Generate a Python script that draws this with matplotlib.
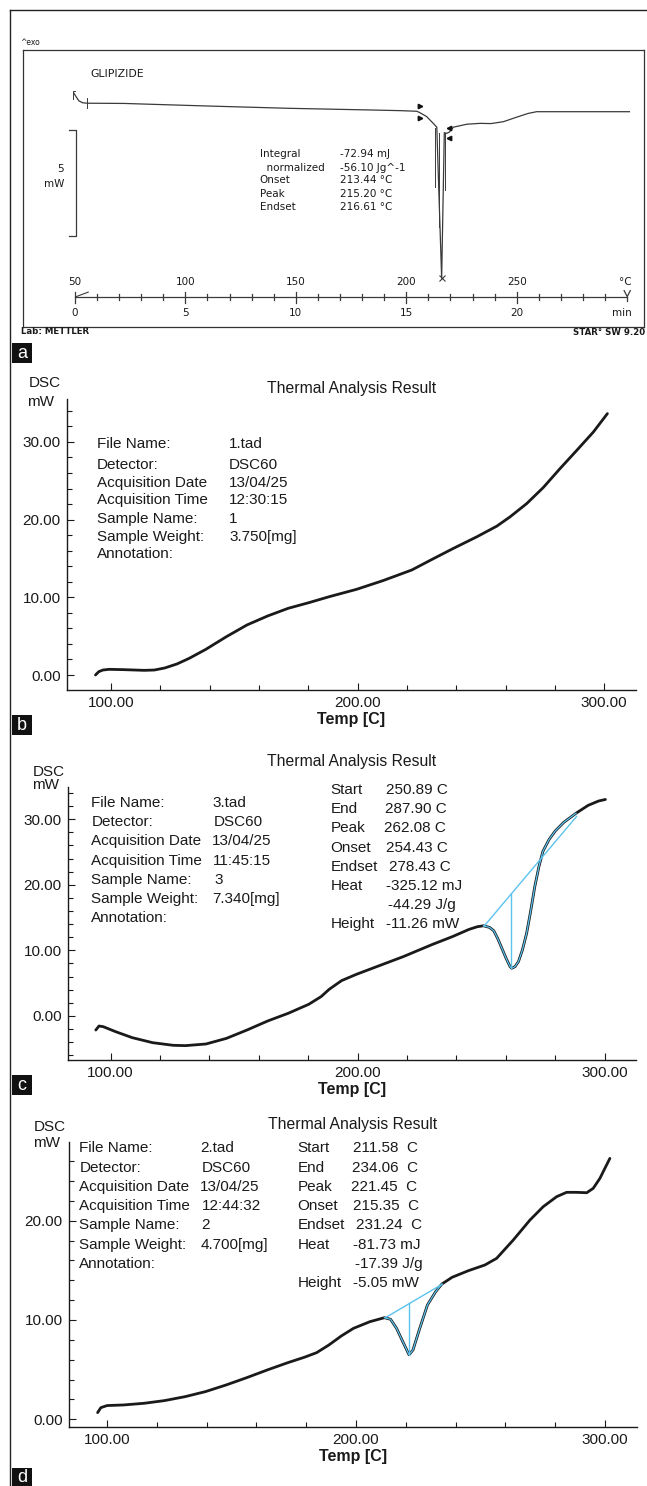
import matplotlib
matplotlib.use('Agg')
import matplotlib.pyplot as plt
from matplotlib.ticker import MultipleLocator, FuncFormatter
from matplotlib.patches import Rectangle
from matplotlib.lines import Line2D

# ---------------- data ----------------
# Panel a (METTLER, GLIPIZIDE): temperature [C] vs heat flow [mW, arbitrary offset]
a_temp = [49.6, 50.5, 51.8, 53.5, 55.7, 72.1, 109.5, 146.9, 184.2, 197.2, 204.8, 206.2,
          209.2, 212.2, 213.8, 216.0, 217.2, 218.3, 219.5, 221.3, 227.4, 233.4, 238.4,
          244.0, 249.6, 255.2, 259.0, 301.0]
a_hf = [11.0, 10.85, 10.65, 10.56, 10.54, 10.53, 10.41, 10.30, 10.22, 10.19, 10.16, 10.09,
        9.91, 9.59, 9.41, 2.28, 9.15, 9.12, 9.18, 9.41, 9.55, 9.59, 9.58,
        9.67, 9.87, 10.06, 10.14, 10.14]
a_hatch_temp = [213.0, 215.0, 217.6]
a_hatch_top = [9.36, 9.12, 9.12]
a_hatch_bot = [6.60, 4.72, 6.45]
a_temp_labels = [50, 100, 150, 200, 250]
a_min_labels = [0, 5, 10, 15, 20]
a_minutes = list(range(26))
a_info_labels = ["Integral", "  normalized", "Onset", "Peak", "Endset"]
a_info_values = ["-72.94 mJ", "-56.10 Jg^-1", "213.44 \u00b0C", "215.20 \u00b0C", "216.61 \u00b0C"]

# Panel b (1.tad)
b_temp = [93.65, 94.99, 96.66, 99.16, 105.0, 113.4, 117.5, 121.7, 126.7, 131.7, 138.4, 146.8,
          155.1, 163.5, 171.8, 180.2, 188.6, 199.6, 210.3, 222.0, 230.1, 238.8, 248.3,
          256.4, 261.8, 268.6, 275.3, 282.1, 288.9, 295.6, 301.3]
b_dsc = [0.0, 0.43, 0.64, 0.73, 0.69, 0.60, 0.64, 0.90, 1.42, 2.15, 3.30, 4.94,
         6.44, 7.60, 8.58, 9.31, 10.09, 11.03, 12.15, 13.52, 14.87, 16.29, 17.78,
         19.15, 20.35, 22.07, 24.13, 26.57, 28.92, 31.27, 33.64]
b_info_labels = ["File Name:", "Detector:", "Acquisition Date", "Acquisition Time",
                 "Sample Name:", "Sample Weight:", "Annotation:"]
b_info_values = ["1.tad", "DSC60", "13/04/25", "12:30:15", "1", "3.750[mg]", ""]

# Panel c (3.tad)
c_temp = [94.0, 95.3, 97.0, 102.0, 108.7, 117.0, 125.3, 130.3, 138.6, 146.9, 155.2, 163.6,
          171.9, 180.2, 185.2, 188.5, 193.5, 199.5, 208.5, 218.5, 230.1, 238.4, 245.1,
          248.4, 250.9, 253.4, 255.1, 256.7, 258.4, 260.1, 261.7, 262.4, 263.7, 265.1,
          266.7, 268.4, 270.0, 271.7, 273.4, 275.0, 277.5, 280.0, 283.4, 288.4, 293.3,
          297.5, 300.3]
c_dsc = [-2.14, -1.53, -1.63, -2.39, -3.30, -4.07, -4.47, -4.52, -4.27, -3.41, -2.14, -0.76,
         0.41, 1.78, 2.95, 4.07, 5.39, 6.35, 7.63, 9.05, 10.88, 12.10, 13.20,
         13.60, 13.75, 13.50, 12.99, 11.80, 10.30, 8.79, 7.52, 7.27, 7.52, 8.29,
         10.07, 12.60, 15.90, 19.70, 22.80, 25.10, 26.90, 28.20, 29.50, 30.90, 32.10,
         32.76, 33.00]
c_base_temp = [251.2, 288.6]
c_base_dsc = [13.7, 30.4]
c_peak_temp = 262.08
c_peak_range = [7.27, 18.55]
c_info_labels = ["File Name:", "Detector:", "Acquisition Date", "Acquisition Time",
                 "Sample Name:", "Sample Weight:", "Annotation:"]
c_info_values = ["3.tad", "DSC60", "13/04/25", "11:45:15", "3", "7.340[mg]", ""]
c_res_labels = ["Start", "End", "Peak", "Onset", "Endset", "Heat", "", "Height"]
c_res_values = ["250.89 C", "287.90 C", "262.08 C", "254.43 C", "278.43 C",
                "-325.12 mJ", "-44.29 J/g", "-11.26 mW"]

# Panel d (2.tad)
d_temp = [96.2, 97.5, 100.0, 106.6, 114.9, 123.1, 131.4, 139.6, 147.9, 156.1, 164.4, 172.6,
          179.2, 184.2, 189.1, 194.1, 199.0, 205.6, 211.4, 213.9, 216.3, 218.8, 221.3,
          222.9, 225.4, 228.7, 232.0, 234.5, 238.6, 245.2, 251.8, 256.5, 263.2, 269.9,
          275.2, 280.6, 284.6, 288.6, 292.7, 295.3, 298.0, 300.0, 302.0]
d_dsc = [0.67, 1.17, 1.38, 1.44, 1.61, 1.88, 2.28, 2.79, 3.46, 4.19, 4.97, 5.70,
         6.24, 6.71, 7.48, 8.39, 9.16, 9.83, 10.23, 10.07, 9.16, 7.82, 6.50,
         6.98, 8.99, 11.51, 12.85, 13.62, 14.30, 14.97, 15.54, 16.21, 18.06, 20.07,
         21.41, 22.42, 22.86, 22.86, 22.82, 23.26, 24.27, 25.28, 26.28]
d_base_temp = [211.8, 234.6]
d_base_dsc = [10.23, 13.6]
d_peak_temp = 221.45
d_peak_range = [6.50, 11.74]
d_info_labels = ["File Name:", "Detector:", "Acquisition Date", "Acquisition Time",
                 "Sample Name:", "Sample Weight:", "Annotation:"]
d_info_values = ["2.tad", "DSC60", "13/04/25", "12:44:32", "2", "4.700[mg]", ""]
d_res_labels = ["Start", "End", "Peak", "Onset", "Endset", "Heat", "", "Height"]
d_res_values = ["211.58  C", "234.06  C", "221.45  C", "215.35  C", "231.24  C",
                "-81.73 mJ", "-17.39 J/g", "-5.05 mW"]

# ---------------- figure ----------------
W, H = 647, 1486
fig = plt.figure(figsize=(W / 100, H / 100), dpi=100)
FONT = ['Liberation Sans', 'DejaVu Sans']
AFONT = ['DejaVu Sans']
BLUE = '#5cc3ee'
INK = '#1a1a1a'


def fx(x):
    return x / W


def fy(y):
    return 1 - y / H


def add_ax(l, t, r, b):
    return fig.add_axes([fx(l), fy(b), (r - l) / W, (b - t) / H])


def ftext(x, y, s, **kw):
    kw.setdefault('family', FONT)
    kw.setdefault('fontsize', 11)
    kw.setdefault('va', 'center')
    kw.setdefault('color', INK)
    fig.text(fx(x), fy(y), s, **kw)


# outer frame
fig.add_artist(Line2D([fx(10), fx(10)], [fy(10), fy(1486)], color='#222', lw=1.0))
fig.add_artist(Line2D([fx(10), fx(647)], [fy(10), fy(10)], color='#222', lw=1.0))

# panel letters
for letter, top in [('a', 343), ('b', 715), ('c', 1075), ('d', 1468)]:
    fig.add_artist(Rectangle((fx(12), fy(top + 20)), 20 / W, 20 / H, transform=fig.transFigure,
                             facecolor='#111', edgecolor='none'))
    fig.text(fx(22), fy(top + 10), letter, color='white', fontsize=13, ha='center', va='center',
             family=FONT)

# ---------------- panel a ----------------
axa = add_ax(22.6, 50, 644, 326.7)
axa.set_xlim(26.3, 307.6)
axa.set_ylim(0, 13.05)
axa.set_xticks([])
axa.set_yticks([])
for s in axa.spines.values():
    s.set_color('#333')
    s.set_linewidth(0.9)

acol = '#3a3a3a'
axa.plot(a_temp, a_hf, color=acol, lw=0.9)
for t, top, bot in zip(a_hatch_temp, a_hatch_top, a_hatch_bot):
    axa.plot([t, t], [top, bot], color=acol, lw=0.7)
axa.plot([216.0], [2.28], marker='x', ms=5, color=acol, mew=0.8)
# start/end brackets of curve
axa.plot([49.3, 49.3, 49.9], [10.75, 11.1, 11.1], color=acol, lw=0.7)
axa.plot([55.3, 55.3], [10.3, 10.78], color=acol, lw=0.7)
# onset / endset markers
axa.plot([206.2], [10.40], marker='>', ms=3.2, color='#111', ls='none')
axa.plot([206.2], [9.82], marker='>', ms=3.2, color='#111', ls='none')
axa.plot([219.5], [9.38], marker='<', ms=3.2, color='#111', ls='none')
axa.plot([219.5], [8.88], marker='<', ms=3.2, color='#111', ls='none')

# scale bar 5 mW
axa.plot([47.2, 50.6, 50.6, 47.2], [9.28, 9.28, 4.28, 4.28], color=acol, lw=0.9)
axa.text(45.0, 7.42, "5", family=AFONT, fontsize=7.5, ha='right', va='center', color=INK)
axa.text(45.0, 6.73, "mW", family=AFONT, fontsize=7.5, ha='right', va='center', color=INK)

axa.text(57.1, 11.92, "GLIPIZIDE", family=AFONT, fontsize=7.8, ha='left', va='center', color=INK)
rows_v = [8.13, 7.50, 6.90, 6.27, 5.64]
for lab, val, v in zip(a_info_labels, a_info_values, rows_v):
    axa.text(133.6, v, lab, family=AFONT, fontsize=7.5, ha='left', va='center', color=INK)
    axa.text(169.8, v, val, family=AFONT, fontsize=7.5, ha='left', va='center', color=INK)

# time / temperature axis inside box
axv = 1.42
axa.plot([50, 300], [axv, axv], color=acol, lw=0.9)
for m in a_minutes:
    t = 50 + 10 * m
    if m == 25:
        axa.plot([298.6, 300, 301.4], [1.70, axv, 1.70], color=acol, lw=0.9)
        axa.plot([300, 300], [axv, 1.20], color=acol, lw=0.9)
    elif m % 5 == 0:
        axa.plot([t, t], [1.10, 1.65], color=acol, lw=0.9)
    else:
        axa.plot([t, t], [1.27, 1.54], color=acol, lw=0.9)
axa.plot([50.6, 56.0], [axv, 1.63], color=acol, lw=0.8)
for t in a_temp_labels:
    axa.text(t, 2.12, str(t), family=AFONT, fontsize=7.5, ha='center', va='center', color=INK)
axa.text(299.0, 2.12, "\u00b0C", family=AFONT, fontsize=7.5, ha='center', va='center', color=INK)
for m in a_min_labels:
    axa.text(50 + 10 * m, 0.66, str(m), family=AFONT, fontsize=7.5, ha='center', va='center',
             color=INK)
axa.text(297.5, 0.66, "min", family=AFONT, fontsize=7.5, ha='center', va='center', color=INK)

fig.text(fx(20.6), fy(42.7), "^exo", family=AFONT, fontsize=5.5, va='center', color=INK)
fig.text(fx(20.6), fy(332), "Lab: METTLER", family=AFONT, fontsize=6.2, fontweight='bold',
         va='center', color=INK)
fig.text(fx(645), fy(332.5), "STAR\u00b0 SW 9.20", family=AFONT, fontsize=6.2,
         fontweight='bold', va='center', ha='right', color=INK)


# ---------------- DSC panels ----------------
def style_dsc(ax, xlim, ylim):
    ax.set_xlim(*xlim)
    ax.set_ylim(*ylim)
    for s in ['top', 'right']:
        ax.spines[s].set_visible(False)
    for s in ['left', 'bottom']:
        ax.spines[s].set_linewidth(1.0)
        ax.spines[s].set_color(INK)
    ax.xaxis.set_major_locator(MultipleLocator(100))
    ax.xaxis.set_minor_locator(MultipleLocator(20))
    ax.yaxis.set_major_locator(MultipleLocator(10))
    ax.yaxis.set_minor_locator(MultipleLocator(2))
    fmt = FuncFormatter(lambda v, p: f"{v:.2f}")
    ax.xaxis.set_major_formatter(fmt)
    ax.yaxis.set_major_formatter(fmt)
    ax.tick_params(which='major', direction='in', length=5, width=0.8, labelsize=11,
                   pad=4.5, colors=INK)
    ax.tick_params(which='minor', direction='in', length=3.5, width=0.8, colors=INK)
    for lab in ax.get_xticklabels() + ax.get_yticklabels():
        lab.set_family(FONT)
    ax.set_xlabel("Temp [C]", family=FONT, fontsize=11.5, fontweight='bold', labelpad=1.5,
                  color=INK)


def info_block(x_lab, x_val, rows, labels, values):
    for lab, val, y, xv in zip(labels, values, rows, x_val):
        ftext(x_lab, y, lab)
        if val:
            ftext(xv, y, val)


# panel b
axb = add_ax(67, 399, 636, 690)
style_dsc(axb, (82.1, 312.9), (-1.93, 35.52))
axb.plot(b_temp, b_dsc, color=INK, lw=2.0, solid_joinstyle='round', solid_capstyle='round')
ftext(352, 389, "Thermal Analysis Result", ha='center', fontsize=11.3)
ftext(45.3, 383.3, "DSC", ha='center')
ftext(41.0, 401.7, "mW", ha='center')
info_block(97, [229.2] * 7, [444, 465, 482.7, 500.3, 518.7, 536.7, 554.3],
           b_info_labels, b_info_values)

# panel c
axc = add_ax(67.9, 787, 635.8, 1060)
style_dsc(axc, (82.7, 312.6), (-6.71, 34.9))
axc.plot(c_temp, c_dsc, color=INK, lw=2.0, solid_joinstyle='round', solid_capstyle='round')
c_sel = [i for i, t in enumerate(c_temp) if c_base_temp[0] - 0.5 <= t <= c_base_temp[1] + 0.5]
axc.plot([c_temp[i] for i in c_sel], [c_dsc[i] for i in c_sel], color=BLUE, lw=0.9)
axc.plot(c_base_temp, c_base_dsc, color=BLUE, lw=1.0)
axc.plot([c_peak_temp, c_peak_temp], c_peak_range, color=BLUE, lw=1.0)
ftext(352, 761.7, "Thermal Analysis Result", ha='center', fontsize=11.3)
ftext(48.6, 771.7, "DSC", ha='center')
ftext(45.3, 785, "mW", ha='center')
info_block(91.4, [212, 214, 212, 213, 214, 212, 212],
           [802.7, 822, 841.3, 860.7, 880, 899.3, 918.3], c_info_labels, c_info_values)
info_block(330.5, [385.6, 385, 383.5, 385.6, 389, 385.6, 388, 385.6],
           [790, 809.3, 828.3, 847.7, 867, 886, 905.3, 924.3], c_res_labels, c_res_values)

# panel d
axd = add_ax(69, 1142, 637, 1427)
style_dsc(axd, (84.7, 312.9), (-0.78, 27.93))
axd.plot(d_temp, d_dsc, color=INK, lw=2.0, solid_joinstyle='round', solid_capstyle='round')
d_sel = [i for i, t in enumerate(d_temp) if d_base_temp[0] - 0.5 <= t <= d_base_temp[1] + 0.5]
axd.plot([d_temp[i] for i in d_sel], [d_dsc[i] for i in d_sel], color=BLUE, lw=0.9)
axd.plot(d_base_temp, d_base_dsc, color=BLUE, lw=1.0)
axd.plot([d_peak_temp, d_peak_temp], d_peak_range, color=BLUE, lw=1.0)
ftext(353, 1124, "Thermal Analysis Result", ha='center', fontsize=11.3)
ftext(49.4, 1126.7, "DSC", ha='center')
ftext(46.1, 1143.3, "mW", ha='center')
info_block(79.4, [200.4, 201.6, 199.6, 201.6, 201.6, 200.4, 200.4],
           [1148.3, 1167.7, 1186.7, 1206, 1225.3, 1244.7, 1263.7], d_info_labels, d_info_values)
info_block(297.5, [352.7, 351.9, 351, 352.7, 356, 352.7, 355, 352.7],
           [1148.3, 1167.7, 1186.7, 1206, 1225.3, 1244.7, 1263.7, 1282.7],
           d_res_labels, d_res_values)

fig.savefig("out.png", dpi=100)
